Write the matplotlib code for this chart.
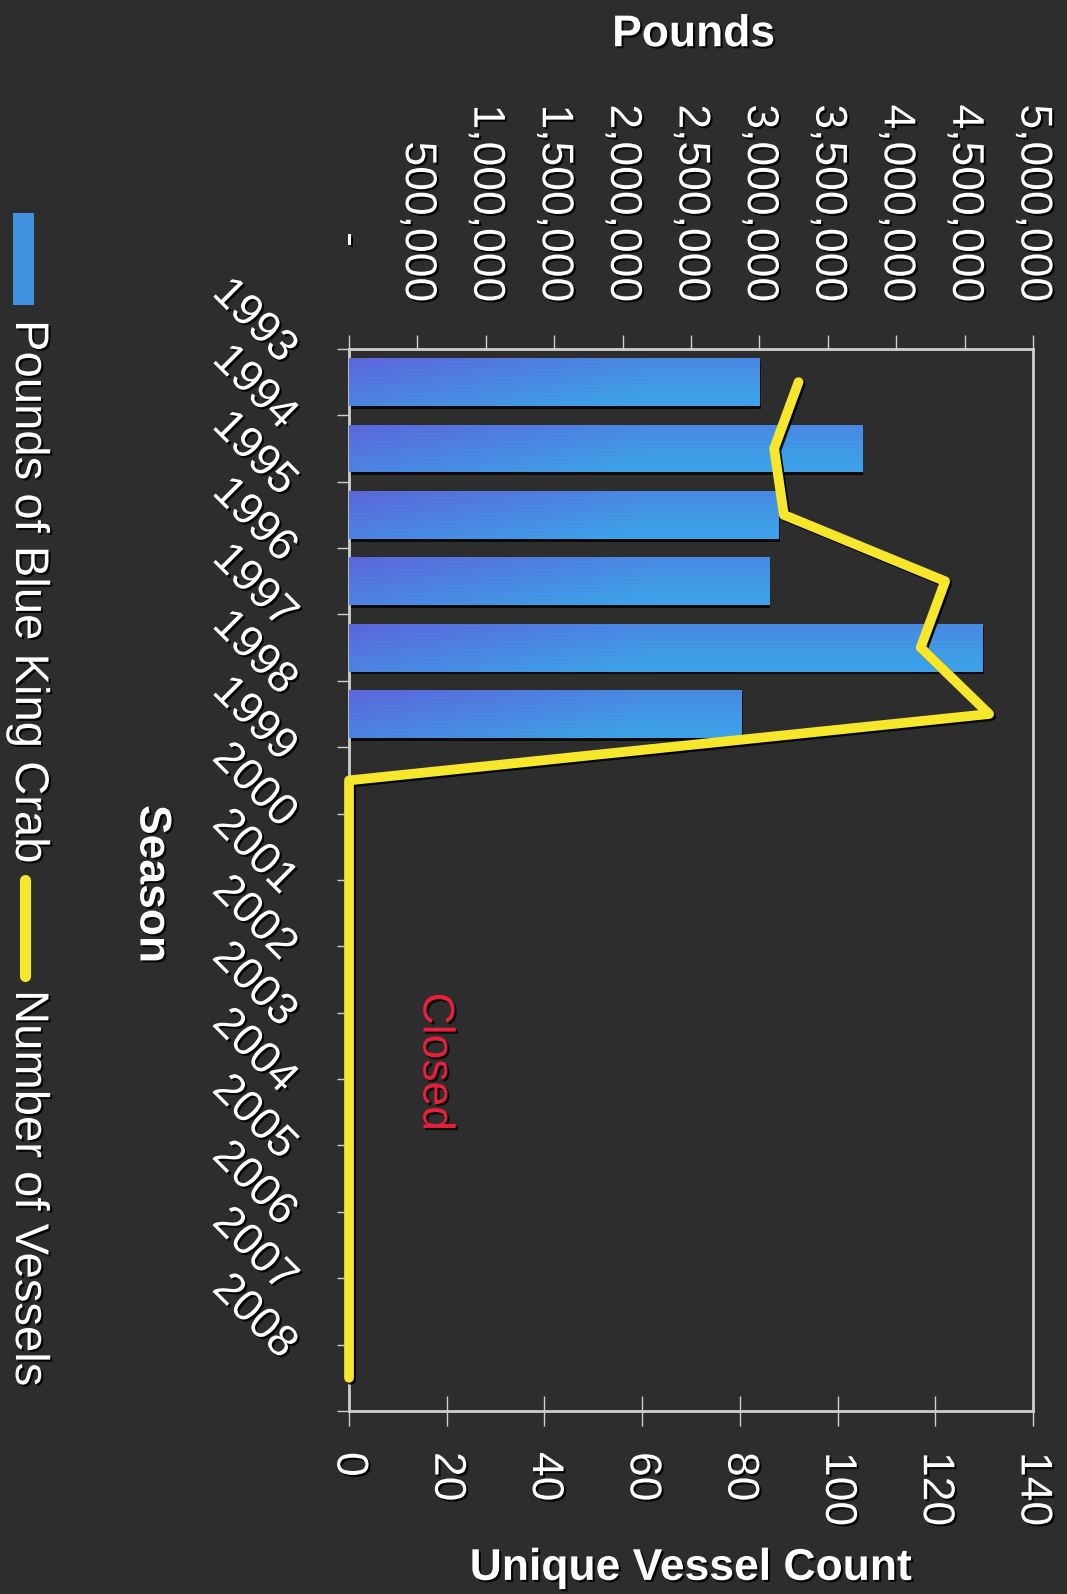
import matplotlib
matplotlib.use("Agg")
import matplotlib.pyplot as plt
import matplotlib.patheffects as pe
from matplotlib.transforms import ScaledTranslation
from matplotlib.patches import Rectangle
from matplotlib.lines import Line2D
import numpy as np

plt.rcParams['font.family'] = ['Liberation Sans', 'DejaVu Sans']

# data
seasons = ['1993', '1994', '1995', '1996', '1997', '1998', '1999', '2000',
           '2001', '2002', '2003', '2004', '2005', '2006', '2007', '2008']
pounds = [3000000, 3750000, 3140000, 3070000, 4630000, 2870000,
          0, 0, 0, 0, 0, 0, 0, 0, 0, 0]
vessels = [92, 87, 89, 122, 117, 131, 0, 0, 0, 0, 0, 0, 0, 0, 0, 0]
pound_ticks = [0, 500000, 1000000, 1500000, 2000000, 2500000,
               3000000, 3500000, 4000000, 4500000, 5000000]
vessel_ticks = [0, 20, 40, 60, 80, 100, 120, 140]

bg = '#2d2d2d'
grey = '#cfcfcf'
yellow = '#f6e62c'
shadow = [pe.SimplePatchShadow(offset=(1.5, -1.5), shadow_rgbFace='black', alpha=0.9), pe.Normal()]

fig = plt.figure(figsize=(10.67, 15.94), dpi=100, facecolor=bg)
ax = fig.add_axes([0.3271, 0.1148, 0.6411, 0.6663])
ax.set_facecolor(bg)
ax2 = ax.twiny()

ypos = np.arange(len(seasons))

# bars with a blue gradient
bars = ax.barh(ypos, pounds, height=0.72, color='#3f8fe0', zorder=2)
c0 = np.array([0.36, 0.40, 0.86])
c1 = np.array([0.24, 0.63, 0.91])
for b in bars:
    w = b.get_width()
    if w <= 0:
        continue
    y0, h = b.get_y(), b.get_height()
    hx = np.clip(np.linspace(0, w, 200) / 2.2e6, 0, 1)
    vy = np.linspace(0, 1, 30)[:, None]
    t = np.clip(0.6 * hx[None, :] + 0.5 * vy, 0, 1)
    img = c0 + (c1 - c0) * t[..., None]
    im = ax.imshow(img, extent=(0, w, y0 + h, y0), origin='upper',
                   aspect='auto', zorder=3, interpolation='bilinear')
    im.set_clip_path(b)
    b.set_path_effects([pe.SimplePatchShadow(offset=(1, -2), shadow_rgbFace='black', alpha=0.8), pe.Normal()])

ax.set_xlim(0, 5000000)
ax.set_ylim(len(seasons) - 0.5, -0.5)

# vessel line
ax2.plot(vessels, ypos, color=yellow, lw=7, solid_joinstyle='round',
         solid_capstyle='round', clip_on=False, zorder=5,
         path_effects=[pe.SimpleLineShadow(offset=(1.5, -1.5), shadow_color='black', alpha=0.9), pe.Normal()])
ax2.set_xlim(0, 140)

# pounds axis on top
ax.xaxis.tick_top()
ax.set_xticks(pound_ticks)
ax.set_xticklabels(['-'] + [f'{v:,}' for v in pound_ticks[1:]])
ax.tick_params(axis='x', which='major', direction='out', length=10, width=1,
               color=grey, labelsize=32, labelcolor='white', pad=23.5,
               labelrotation=-90)
zero_lab = ax.get_xticklabels()[0]
zero_lab.set_transform(zero_lab.get_transform() + ScaledTranslation(0, 0.55, fig.dpi_scale_trans))

# season axis
ax.set_yticks(ypos)
ax.set_yticklabels(seasons)
ax.set_yticks(np.arange(-0.5, len(seasons), 1), minor=True)
ax.tick_params(axis='y', which='major', length=0, pad=0, labelsize=32, labelcolor='white')
ax.tick_params(axis='y', which='minor', direction='out', length=9, width=1, color=grey)
off = ScaledTranslation(-0.6, 0.26, fig.dpi_scale_trans)
for lab in ax.get_yticklabels():
    lab.set_rotation(-45)
    lab.set_ha('right')
    lab.set_va('center')
    lab.set_rotation_mode('anchor')
    lab.set_transform(lab.get_transform() + off)

# vessel axis at bottom
ax2.xaxis.tick_bottom()
ax2.set_xticks(vessel_ticks)
ax2.tick_params(axis='x', direction='inout', length=21, width=1, color=grey,
                labelsize=32, labelcolor='white', pad=19, labelrotation=-90)

for s in ax.spines.values():
    s.set_color(grey)
    s.set_linewidth(2)
for s in ax2.spines.values():
    s.set_visible(False)

for lab in ax.get_xticklabels() + ax.get_yticklabels() + ax2.get_xticklabels():
    lab.set_path_effects(shadow)

# axis titles
ax.xaxis.set_label_position('top')
ax.set_xlabel('Pounds', fontsize=32, fontweight='bold', color='white', va='baseline', path_effects=shadow)
ax.xaxis.set_label_coords(0.504, 1.285)
ax2.xaxis.set_label_position('bottom')
ax2.set_xlabel('Unique Vessel Count', fontsize=32, fontweight='bold', color='white', va='baseline', path_effects=shadow)
ax2.xaxis.set_label_coords(0.5, -0.159)
ax.set_ylabel('Season', fontsize=32, fontweight='bold', color='white', rotation=-90,
              ha='center', va='center', path_effects=shadow)
ax.yaxis.set_label_coords(-0.288, 0.496)

ax2.text(17.6, 10.24, 'Closed', color='#e8203c', rotation=-90, ha='center', va='center',
         fontsize=32, path_effects=shadow)

# legend, rotated like the chart
fig.patches.append(Rectangle((0.0122, 0.8087), 0.0197, 0.0577, transform=fig.transFigure,
                             facecolor='#4193e2', edgecolor='none', figure=fig))
fig.text(0.0262, 0.7992, 'Pounds of Blue King Crab', rotation=-90, ha='center', va='top',
         fontsize=34, color='white', path_effects=shadow)
fig.lines.append(Line2D([0.0234, 0.0234], [0.4480, 0.3880], transform=fig.transFigure,
                        color=yellow, lw=8, solid_capstyle='round', figure=fig))
fig.text(0.0262, 0.3789, 'Number of Vessels', rotation=-90, ha='center', va='top',
         fontsize=34, color='white', path_effects=shadow)

fig.savefig('out.png', dpi=100, facecolor=bg)
